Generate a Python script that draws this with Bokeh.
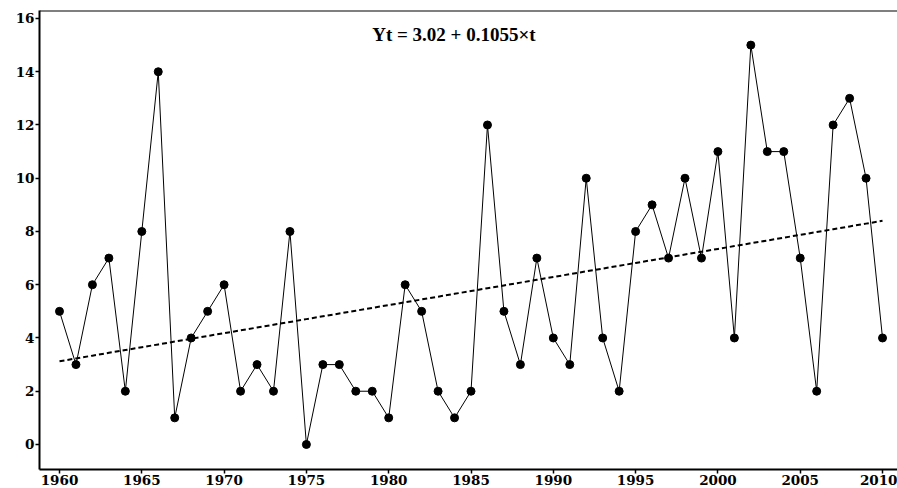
from bokeh.plotting import figure
from bokeh.models import Range1d, FixedTicker, Span
from bokeh.embed import file_html
from bokeh.resources import INLINE
from bokeh.core.properties import value

years = list(range(1960, 2011))
counts = [5, 3, 6, 7, 2, 8, 14, 1, 4, 5,
          6, 2, 3, 2, 8, 0, 3, 3, 2, 2,
          1, 6, 5, 2, 1, 2, 12, 5, 3, 7,
          4, 3, 10, 4, 2, 8, 9, 7, 10, 7,
          11, 4, 15, 11, 11, 7, 2, 12, 13, 10,
          4]
x_ticks = [1960, 1965, 1970, 1975, 1980, 1985, 1990, 1995, 2000, 2005, 2010]
y_ticks = [0, 2, 4, 6, 8, 10, 12, 14, 16]
trend_a = 3.02
trend_b = 0.1055
equation = "Yt = 3.02 + 0.1055×t"

t = [i + 1 for i in range(len(years))]
trend = [trend_a + trend_b * ti for ti in t]

TICK_FONT = "DejaVu Serif"
EQ_FONT = "Liberation Serif"
Y_TOP = 16.3

p = figure(width=897, height=488, output_backend="svg", toolbar_location=None,
           x_range=Range1d(1958.785, 2010.91), y_range=Range1d(-0.94, Y_TOP),
           min_border_left=39, min_border_right=0, min_border_top=10,
           min_border_bottom=19, background_fill_color="white",
           border_fill_color="white")
p.outline_line_color = None
p.grid.visible = False

for ax in (p.xaxis[0], p.yaxis[0]):
    ax.axis_line_width = 2
    ax.axis_line_color = "black"
    ax.major_tick_line_color = "black"
    ax.major_tick_line_width = 1.5
    ax.major_tick_in = 0
    ax.major_tick_out = 4
    ax.minor_tick_line_color = None
    ax.major_label_text_font = TICK_FONT
    ax.major_label_text_font_style = "bold"
    ax.major_label_text_font_size = "13.5px"
    ax.major_label_text_color = "black"
    ax.major_label_standoff = 1

p.xaxis.ticker = FixedTicker(ticks=x_ticks)
p.yaxis.ticker = FixedTicker(ticks=y_ticks)

p.add_layout(Span(location=Y_TOP, dimension="width", line_color="black", line_width=2))

p.line(years, trend, line_color="black", line_width=2, line_dash="5 3")
p.line(years, counts, line_color="black", line_width=1)
p.scatter(years, counts, size=8, fill_color="black", line_color="black")

p.text(x=[1983.96], y=[15.41], text=[equation], text_font=value(EQ_FONT),
       text_font_style="bold", text_font_size="19px", text_align="center",
       text_baseline="middle", text_color="black")

open("out.html", "w").write(file_html(p, INLINE))
